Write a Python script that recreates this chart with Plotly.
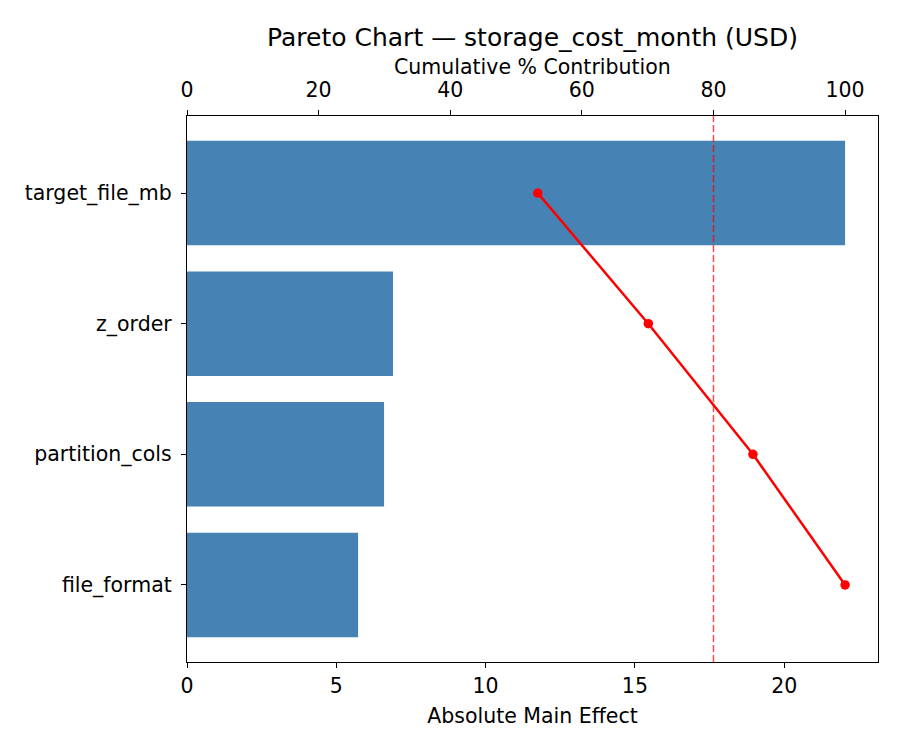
import plotly.graph_objects as go

# factor effects, already sorted largest first
factors = ["target_file_mb", "z_order", "partition_cols", "file_format"]
abs_effect = [22.04, 6.90, 6.60, 5.73]
cum_pct = [53.3, 70.1, 86.0, 100.0]
pct_ticks = [0, 20, 40, 60, 80, 100]
effect_ticks = [0, 5, 10, 15, 20]
threshold = 80

FONT = "DejaVu Sans"
OFF = 8  # page body margin of the html output

fig = go.Figure()

fig.add_trace(go.Bar(
    x=abs_effect, y=factors, orientation="h",
    marker=dict(color="steelblue", line=dict(width=0)),
    width=0.8, xaxis="x", yaxis="y", showlegend=False,
))

fig.add_trace(go.Scatter(
    x=cum_pct, y=factors, mode="lines+markers",
    line=dict(color="red", width=2.5),
    marker=dict(color="red", size=9.5),
    xaxis="x2", yaxis="y", showlegend=False,
))

# 80% reference line
fig.add_shape(
    type="line", xref="x2", yref="paper",
    x0=threshold, x1=threshold, y0=0, y1=1,
    line=dict(color="red", width=1.5, dash="7px,3px"),
    opacity=0.7,
)

axis_common = dict(
    showgrid=False, zeroline=False, showline=True, linecolor="black",
    linewidth=1.3, ticks="outside", ticklen=5, tickwidth=1.3, tickcolor="black",
    tickfont=dict(family=FONT, size=20.5, color="black"),
)

fig.update_layout(
    width=900, height=750,
    margin=dict(l=187 - OFF, r=22 + OFF, t=116 - OFF, b=88 + OFF),
    paper_bgcolor="white", plot_bgcolor="white",
    font=dict(family=FONT, color="black"),
    title=dict(
        text="Pareto Chart — storage_cost_month (USD)",
        x=(532.5 - OFF) / 900, xanchor="center",
        y=1 - (37 - OFF) / 750, yanchor="middle",
        font=dict(family=FONT, size=25, color="black"),
    ),
    xaxis=dict(
        **axis_common, range=[0, max(abs_effect) * 1.05],
        tickvals=effect_ticks, mirror=True,
        title=dict(text="Absolute Main Effect", font=dict(family=FONT, size=20.5), standoff=11),
    ),
    xaxis2=dict(
        **axis_common, overlaying="x", side="top", range=[0, 105],
        tickvals=pct_ticks, ticklabelstandoff=5,
    ),
    yaxis=dict(
        **axis_common, mirror=True, type="category",
        categoryorder="array", categoryarray=factors,
        range=[len(factors) - 1 + 0.59, -0.59], ticklabelstandoff=5,
    ),
    annotations=[dict(
        text="Cumulative % Contribution", xref="paper", yref="paper",
        x=0.5, y=1, xanchor="center", yanchor="middle", yshift=116 - 67,
        showarrow=False, font=dict(family=FONT, size=20.5, color="black"),
    )],
)

fig.write_html("out.html")
